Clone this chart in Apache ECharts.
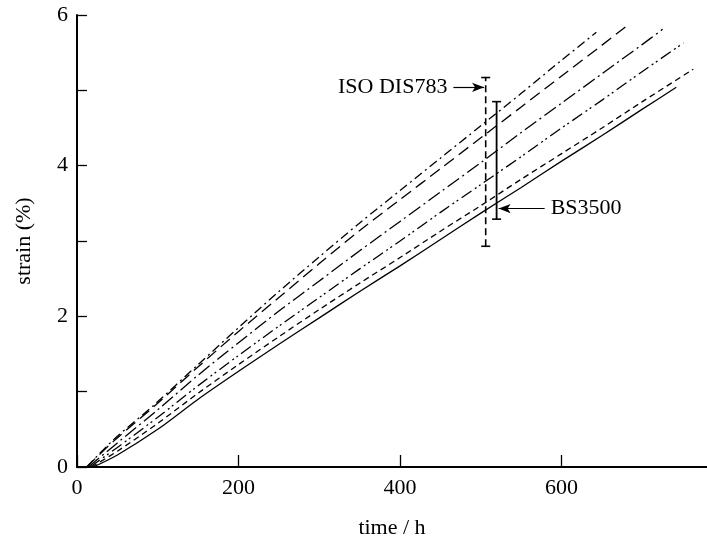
<!DOCTYPE html>
<html>
<head>
<meta charset="utf-8">
<script src="https://cdn.jsdelivr.net/npm/echarts@6/dist/echarts.min.js"></script>
<style>html,body{margin:0;padding:0;background:#fff}#c{width:707px;height:544px}</style>
</head>
<body>
<div id="c"></div>
<script>
// time (h) and strain (%) for each creep curve, top to bottom
const t1 = [12, 45, 95, 150, 200, 250, 300, 350, 400, 450, 500, 550, 600, 643];
const s1 = [0, 0.36, 0.82, 1.36, 1.85, 2.33, 2.79, 3.24, 3.67, 4.1, 4.53, 4.96, 5.4, 5.77];
const t2 = [12, 45, 95, 150, 200, 250, 300, 350, 400, 450, 500, 550, 600, 650, 680];
const s2 = [0, 0.34, 0.8, 1.33, 1.8, 2.25, 2.7, 3.14, 3.55, 3.96, 4.37, 4.78, 5.19, 5.6, 5.85];
const t3 = [14, 50, 100, 150, 200, 250, 300, 350, 400, 450, 500, 550, 600, 650, 700, 725];
const s3 = [0, 0.32, 0.76, 1.22, 1.65, 2.07, 2.47, 2.87, 3.26, 3.65, 4.04, 4.44, 4.83, 5.22, 5.61, 5.81];
const t4 = [16, 50, 100, 150, 200, 250, 300, 350, 400, 450, 500, 550, 600, 650, 700, 751];
const s4 = [0, 0.26, 0.66, 1.08, 1.48, 1.87, 2.25, 2.63, 3.0, 3.38, 3.75, 4.12, 4.5, 4.87, 5.25, 5.63];
const t5 = [18, 50, 100, 150, 200, 250, 300, 350, 400, 450, 500, 550, 600, 650, 700, 763];
const s5 = [0, 0.21, 0.58, 0.98, 1.36, 1.73, 2.09, 2.44, 2.78, 3.13, 3.47, 3.82, 4.16, 4.5, 4.85, 5.28];
const t6 = [20, 50, 100, 150, 200, 250, 300, 350, 400, 450, 500, 550, 600, 650, 700, 742];
const s6 = [0, 0.16, 0.5, 0.9, 1.27, 1.63, 1.98, 2.33, 2.67, 3.02, 3.37, 3.71, 4.06, 4.4, 4.75, 5.04];

// scatter bands: [time, low, high]
const isoBand = [506, 2.93, 5.17];
const bsBand = [519.5, 3.29, 4.85];
const isoArrow = [466, 504, 5.04];   // from time, to time, strain
const bsArrow = [579, 522, 3.43];
const isoLabel = 'ISO DIS783';
const bsLabel = 'BS3500';

const xTicks = [0, 200, 400, 600];
const xLabel = 'time / h';
const yLabel = 'strain (%)';

const FONT = '"Liberation Serif", "Times New Roman", Times, serif';
const pairs = (t, s) => t.map((v, i) => [v, s[i]]);
const styles = [
  [9, 4, 2, 4],
  [12, 6],
  [14, 4, 2, 4],
  [12, 4, 2, 3, 2, 4],
  [6, 4],
  'solid'
];
const curves = [[t1, s1], [t2, s2], [t3, s3], [t4, s4], [t5, s5], [t6, s6]];

const series = curves.map((c, i) => ({
  type: 'line',
  data: pairs(c[0], c[1]),
  smooth: 0.3,
  showSymbol: false,
  silent: true,
  lineStyle: { color: '#000', width: 1.3, type: styles[i] }
}));

function band(b, dashed) {
  return {
    type: 'line',
    data: [[b[0], b[1]], [b[0], b[2]]],
    symbol: 'rect',
    symbolSize: [9, 1.6],
    itemStyle: { color: '#000' },
    silent: true,
    lineStyle: { color: '#000', width: dashed ? 1.6 : 1.8, type: dashed ? [7, 4] : 'solid' }
  };
}
series.push(band(isoBand, true));
series.push(band(bsBand, false));

function arrow(a, text) {
  return {
    type: 'line',
    data: [],
    silent: true,
    markLine: {
      silent: true,
      symbol: ['none', 'arrow'],
      symbolSize: [7, 12],
      lineStyle: { color: '#000', width: 1.2, type: 'solid' },
      label: {
        show: true,
        position: 'start',
        formatter: text,
        color: '#000',
        fontFamily: FONT,
        fontSize: 22,
        distance: 6
      },
      data: [[{ coord: [a[0], a[2]] }, { coord: [a[1], a[2]] }]]
    }
  };
}
series.push(arrow(isoArrow, isoLabel));
series.push(arrow(bsArrow, bsLabel));

const chart = echarts.init(document.getElementById('c'), null, { renderer: 'canvas' });
chart.setOption({
  animation: false,
  backgroundColor: '#fff',
  grid: { left: 77, right: 0, top: 15, bottom: 71 },
  xAxis: {
    type: 'value',
    min: 0, max: 780, interval: 200,
    name: xLabel,
    nameLocation: 'middle',
    nameGap: 50,
    nameTextStyle: { color: '#000', fontFamily: FONT, fontSize: 22 },
    axisLine: { lineStyle: { color: '#000', width: 2 } },
    axisTick: { inside: true, length: 12, lineStyle: { color: '#000', width: 1.3 }, customValues: xTicks },
    axisLabel: { color: '#000', fontFamily: FONT, fontSize: 22, margin: 10, customValues: xTicks },
    splitLine: { show: false }
  },
  yAxis: {
    type: 'value',
    min: 0, max: 6, interval: 1,
    name: yLabel,
    nameLocation: 'middle',
    nameGap: 42,
    nameTextStyle: { color: '#000', fontFamily: FONT, fontSize: 22 },
    axisLine: { lineStyle: { color: '#000', width: 2 } },
    axisTick: { inside: true, length: 10, lineStyle: { color: '#000', width: 1.3 } },
    axisLabel: {
      color: '#000', fontFamily: FONT, fontSize: 22, margin: 9,
      formatter: v => (v % 2 === 0 ? String(v) : '')
    },
    splitLine: { show: false }
  },
  series: series
});
</script>
</body>
</html>
